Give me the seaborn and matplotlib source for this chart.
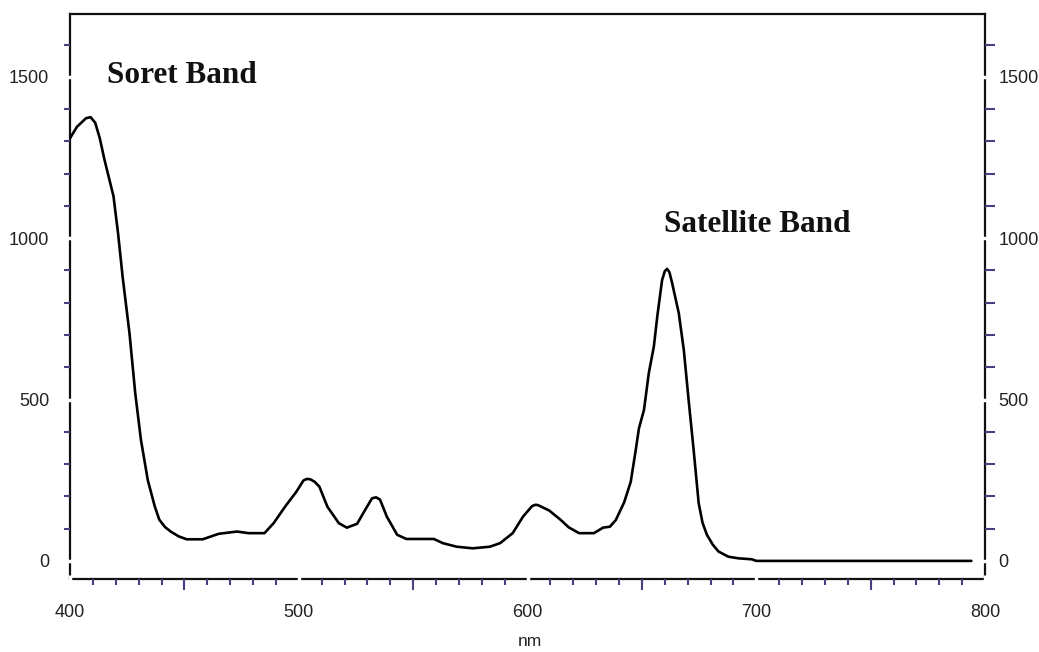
import matplotlib
matplotlib.use('Agg')
import matplotlib.pyplot as plt
import seaborn as sns
import pandas as pd
from matplotlib.ticker import MultipleLocator

# spektrum serapan
wavelength = [400, 403, 407, 409, 411, 413, 415, 419, 421, 423, 426, 428.5, 431, 434, 437, 439,
              441.5, 444, 447.5, 451, 458, 465, 473, 478, 485, 489, 494, 499, 502, 503.5,
              505, 507, 509, 512.5, 517.5, 521, 525.5, 529, 532, 533.8, 535.5, 538.5, 543,
              547, 559, 563, 569, 576, 583.5, 588, 593.5, 598, 602, 603.5, 604.5, 606,
              609.5, 614.5, 618, 622.5, 629, 633, 636, 638.6, 642.2, 645.1, 647.3, 648.7,
              650.9, 653, 655.2, 656.7, 658.8, 660, 661, 662, 663.2, 666.1, 668.3, 670.4,
              672.6, 674.8, 676.5, 678.4, 681, 683.5, 687.8, 692.2, 698, 700, 794]
absorbance = [1310, 1345, 1372, 1375, 1358, 1310, 1245, 1130, 1015, 880, 705, 520, 375, 250, 170, 128,
              105, 91, 76, 67, 67, 84, 91, 86, 86, 117, 168, 215, 249, 254,
              253, 245, 230, 168, 117, 103, 115, 158, 194, 197, 190, 137, 81,
              68, 68, 55, 44, 39, 44, 55, 86, 137, 170, 174, 173, 168,
              156, 127, 104, 86, 86, 103, 106, 127, 181, 245, 344, 411,
              468, 582, 664, 757, 870, 898, 905, 895, 861, 768, 654, 499,
              344, 179, 118, 81, 50, 29, 13, 8, 5, 0, 0]

x_ticks = [400, 500, 600, 700, 800]
x_half_ticks = [450, 550, 650, 750]
y_ticks = [0, 500, 1000, 1500]
band_labels = ['Soret Band', 'Satellite Band']
band_pos = [(416, 1481), (659.6, 1019)]

sns.set_style('white')
plt.rcParams['font.family'] = ['Liberation Sans', 'DejaVu Sans']

tick_purple = '#4a3f80'

fig = plt.figure(figsize=(10.39, 6.52), dpi=100)
ax = fig.add_axes([0.0674, 0.112, 0.8807, 0.8666])

df = pd.DataFrame({'nm': wavelength, 'value': absorbance})
sns.lineplot(data=df, x='nm', y='value', color='black', linewidth=1.9, ax=ax)

ax.set_xlim(400, 800)
ax.set_ylim(-56, 1695)
ax.set_xticks(x_ticks)
ax.set_yticks(y_ticks)
ax.xaxis.set_minor_locator(MultipleLocator(10))
ax.yaxis.set_minor_locator(MultipleLocator(100))

for s in ax.spines.values():
    s.set_color('#111111')
    s.set_linewidth(1.6)
    s.set_zorder(1)
ax.set_axisbelow(False)

# tick berlabel tampil sebagai celah putih pada garis sumbu
ax.tick_params(which='major', direction='inout', length=6, width=2.5, color='white',
               labelsize=13, labelcolor='#222222', bottom=True, left=True,
               top=False, right=False)
ax.tick_params(axis='x', which='major', pad=15)
ax.tick_params(axis='y', which='major', pad=12)
ax.tick_params(which='minor', direction='out', length=4, width=1.5, color=tick_purple,
               bottom=True, left=True, top=False, right=False)

# sumbu kanan
ax2 = ax.twinx()
ax2.set_ylim(ax.get_ylim())
ax2.set_yticks(y_ticks)
ax2.yaxis.set_minor_locator(MultipleLocator(100))
for s in ax2.spines.values():
    s.set_visible(False)
ax2.tick_params(which='major', direction='inout', length=6, width=2.5, color='white',
                labelsize=13, labelcolor='#222222', pad=6.5, right=True, left=False,
                labelright=True, labelleft=False)
ax2.tick_params(which='minor', direction='out', length=7, width=1.5, color=tick_purple,
                right=True, left=False)

# tick panjang di tengah tiap 100 nm
sec = ax.secondary_xaxis('bottom')
sec.set_xticks(x_half_ticks)
sec.tick_params(length=8, width=1.5, color=tick_purple, labelbottom=False)
sec.spines['bottom'].set_visible(False)

for label, (bx, by) in zip(band_labels, band_pos):
    ax.text(bx, by, label, fontfamily='Liberation Serif', fontweight='bold',
            fontsize=22.5, va='baseline', ha='left', color='#111111')

ax.set_xlabel('nm', fontsize=12.5, color='#222222')
ax.xaxis.set_label_coords(0.503, -0.098)
ax.set_ylabel('')

fig.savefig('out.png', dpi=100)
